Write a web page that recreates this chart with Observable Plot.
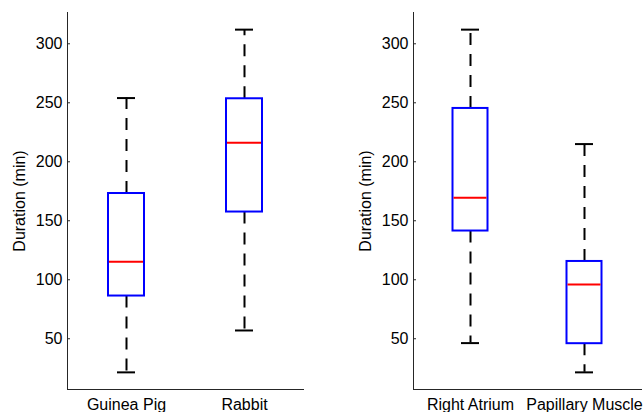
<!DOCTYPE html>
<html><head><meta charset="utf-8">
<script src="https://cdn.jsdelivr.net/npm/d3@7"></script>
<script src="https://cdn.jsdelivr.net/npm/@observablehq/plot@0.6"></script>
<style>
body{margin:0;background:#fff;}
#wrap{position:relative;width:643px;height:412px;overflow:hidden;}
#left{position:absolute;left:0;top:0;}
#right{position:absolute;left:320px;top:0;}
</style></head><body><div id="wrap"><div id="left"></div><div id="right"></div></div>
<script>
// Left panel: species
const speciesCategories = ["Guinea Pig", "Rabbit"];
const speciesMin = [21.5, 57];
const speciesQ1 = [86.2, 157.4];
const speciesMedian = [115.3, 216.1];
const speciesQ3 = [173.1, 253.4];
const speciesMax = [254, 312];

// Right panel: tissue
const tissueCategories = ["Right Atrium", "Papillary Muscle"];
const tissueMin = [46.3, 21.5];
const tissueQ1 = [141.3, 45.8];
const tissueMedian = [169.5, 96];
const tissueQ3 = [245.2, 115.5];
const tissueMax = [312, 215];

const yTicks = [50, 100, 150, 200, 250, 300];
const yLabel = "Duration (min)";

function rows(cats, mn, q1, md, q3, mx) {
  return cats.map((c, i) => ({cat: c, min: mn[i], q1: q1[i], med: md[i], q3: q3[i], max: mx[i]}));
}

const allVals = [...speciesMin, ...speciesMax, ...tissueMin, ...tissueMax];
const lo = d3.min(allVals), hi = d3.max(allVals);
const pad = (hi - lo) * 0.05;
const yDomain = [lo - pad, hi + pad];

const axisColor = "#262626";
const font = "'Liberation Sans', Arial, sans-serif";

function panel(cats, data, {width, marginLeft, marginRight, boxW, capW}) {
  const band = (width - marginLeft - marginRight) / cats.length;
  const boxInset = (band - boxW) / 2;
  const capInset = (band - capW) / 2;
  return Plot.plot({
    width, height: 412,
    marginTop: 12, marginBottom: 23, marginLeft, marginRight,
    style: {fontFamily: font, fontSize: "16px", color: axisColor, background: "white", overflow: "visible"},
    x: {domain: cats, padding: 0, label: null},
    y: {domain: yDomain, label: null},
    marks: [
      Plot.frame({anchor: "left", stroke: axisColor}),
      Plot.frame({anchor: "bottom", stroke: axisColor}),
      Plot.axisX({tickSize: 0, tickPadding: 9, label: null, fill: "#000", fontSize: 16}),
      Plot.axisY({ticks: yTicks, tickSize: -3, tickPadding: 8, label: yLabel, labelAnchor: "center", labelArrow: "none", labelOffset: 54, fill: "#000", stroke: axisColor, fontSize: 16}),
      Plot.ruleX(data, {x: "cat", y1: "q3", y2: "max", stroke: "black", strokeWidth: 2, strokeDasharray: "12,9"}),
      Plot.ruleX(data, {x: "cat", y1: "q1", y2: "min", stroke: "black", strokeWidth: 2, strokeDasharray: "12,9"}),
      Plot.tickY(data, {x: "cat", y: "max", stroke: "black", strokeWidth: 2, insetLeft: capInset, insetRight: capInset}),
      Plot.tickY(data, {x: "cat", y: "min", stroke: "black", strokeWidth: 2, insetLeft: capInset, insetRight: capInset}),
      Plot.barY(data, {x: "cat", y1: "q1", y2: "q3", fill: "white", stroke: "#0000ff", strokeWidth: 2, insetLeft: boxInset, insetRight: boxInset}),
      Plot.tickY(data, {x: "cat", y: "med", stroke: "#ff0000", strokeWidth: 2, insetLeft: boxInset + 1, insetRight: boxInset + 1})
    ]
  });
}

document.getElementById("left").append(
  panel(speciesCategories, rows(speciesCategories, speciesMin, speciesQ1, speciesMedian, speciesQ3, speciesMax),
    {width: 320, marginLeft: 67, marginRight: 17, boxW: 36, capW: 18})
);
document.getElementById("right").append(
  panel(tissueCategories, rows(tissueCategories, tissueMin, tissueQ1, tissueMedian, tissueQ3, tissueMax),
    {width: 323, marginLeft: 93, marginRight: 2, boxW: 35, capW: 18})
);
</script></body></html>
